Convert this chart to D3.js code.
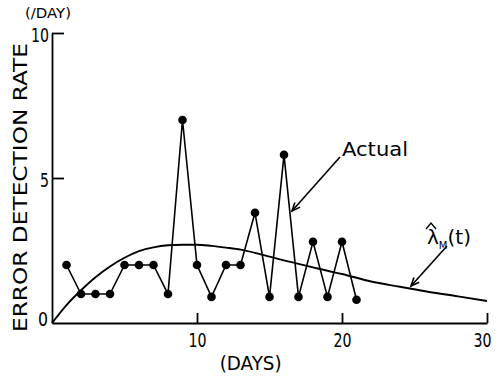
<!DOCTYPE html>
<html>
<head>
<meta charset="utf-8">
<script src="https://cdn.jsdelivr.net/npm/d3@7"></script>
<style>
  html, body { margin: 0; padding: 0; background: #fff; }
  svg { display: block; }
  text { font-family: "DejaVu Sans", "Liberation Sans", sans-serif; fill: #000; }
</style>
</head>
<body>
<svg id="chart" width="498" height="377"></svg>
<script>
// ---- Data ----
const actualDays   = [1, 2, 3, 4, 5, 6, 7, 8, 9, 10, 11, 12, 13, 14, 15, 16, 17, 18, 19, 20, 21];
const actualValues = [2, 1, 1, 1, 2, 2, 2, 1, 7, 2, 0.9, 2, 2, 3.8, 0.9, 5.8, 0.9, 2.8, 0.9, 2.8, 0.8];

const curveDays   = [0, 1, 2, 3, 4, 5, 6, 7, 8, 9, 10, 11, 12, 13, 14, 15, 16, 17, 18, 19, 20, 22, 24, 26, 28, 30];
const curveValues = [0, 0.62, 1.13, 1.58, 1.95, 2.25, 2.48, 2.61, 2.68, 2.70, 2.70, 2.66, 2.60, 2.53, 2.42, 2.29, 2.16, 2.04, 1.92, 1.80, 1.69, 1.43, 1.25, 1.07, 0.92, 0.76];

const xTickValues = [0, 10, 20, 30];
const xTickLabels = ["", "10", "20", "30"];
const yTickValues = [0, 5, 10];
const yTickLabels = ["0", "5", "10"];

// ---- Layout ----
const svg = d3.select("#chart");
const x = d3.scaleLinear().domain([0, 30]).range([52, 487]);
const y = d3.scaleLinear().domain([0, 10]).range([323, 33]);

const g = svg.append("g");

// Axes (ticks pointing inward)
const xAxis = d3.axisBottom(x).tickValues(xTickValues.slice(1))
  .tickSize(-10).tickSizeOuter(0).tickFormat((d) => xTickLabels[xTickValues.indexOf(d)]).tickPadding(10);
const yAxis = d3.axisLeft(y).tickValues(yTickValues.slice(1))
  .tickSize(-12).tickSizeOuter(0).tickFormat((d) => yTickLabels[yTickValues.indexOf(d)]).tickPadding(3);

const gx = g.append("g").attr("transform", `translate(0,${y(0)})`).call(xAxis);
const gy = g.append("g").attr("transform", `translate(${x(0)},0)`).call(yAxis);

[gx, gy].forEach(a => {
  a.select(".domain").attr("stroke", "#000").attr("stroke-width", 1.8);
  a.selectAll(".tick line").attr("stroke", "#000").attr("stroke-width", 1.8);
  a.selectAll(".tick text").attr("font-size", 20).attr("fill", "#000")
    .style("font-family", "'DejaVu Sans', sans-serif")
    .attr("textLength", d => 9 * String(d).length)
    .attr("lengthAdjust", "spacingAndGlyphs");
});
gx.selectAll(".tick text").filter(d => d === 30).attr("dx", -5);
gy.selectAll(".tick text").attr("dy", "0.42em");

// "0" label at origin
g.append("text").attr("x", x(0) - 4).attr("y", y(0) + 3)
  .attr("text-anchor", "end").attr("font-size", 20)
  .attr("textLength", 10).attr("lengthAdjust", "spacingAndGlyphs")
  .text(yTickLabels[0]);

// Axis titles
g.append("text")
  .attr("transform", `translate(27,${(43 + 332) / 2}) rotate(-90)`)
  .attr("text-anchor", "middle").attr("font-size", 20)
  .attr("textLength", 289).attr("lengthAdjust", "spacingAndGlyphs")
  .text("ERROR DETECTION RATE");

g.append("text").attr("x", 48).attr("y", 18).attr("text-anchor", "middle")
  .attr("font-size", 14).attr("textLength", 46).attr("lengthAdjust", "spacingAndGlyphs")
  .text("(/DAY)");

g.append("text").attr("x", x(13.7)).attr("y", 370).attr("text-anchor", "middle")
  .attr("font-size", 20).attr("textLength", 62).attr("lengthAdjust", "spacingAndGlyphs")
  .text("(DAYS)");

// λ curve
const curveData = curveDays.map((d, i) => [d, curveValues[i]]);
g.append("path").datum(curveData)
  .attr("fill", "none").attr("stroke", "#000").attr("stroke-width", 1.9)
  .attr("d", d3.line().x(d => x(d[0])).y(d => y(d[1])).curve(d3.curveMonotoneX));

// Actual series
const actualData = actualDays.map((d, i) => [d, actualValues[i]]);
g.append("path").datum(actualData)
  .attr("fill", "none").attr("stroke", "#000").attr("stroke-width", 1.6)
  .attr("d", d3.line().x(d => x(d[0])).y(d => y(d[1])));
g.selectAll("circle.pt").data(actualData).enter().append("circle")
  .attr("class", "pt").attr("cx", d => x(d[0])).attr("cy", d => y(d[1])).attr("r", 4.3)
  .attr("fill", "#000");

// Annotations
function arrow(x1, y1, x2, y2) {
  g.append("line").attr("x1", x1).attr("y1", y1).attr("x2", x2).attr("y2", y2)
    .attr("stroke", "#000").attr("stroke-width", 1.6);
  const ang = Math.atan2(y2 - y1, x2 - x1);
  const len = 9, spread = 0.4;
  const p1 = [x2 - len * Math.cos(ang - spread), y2 - len * Math.sin(ang - spread)];
  const p2 = [x2 - len * Math.cos(ang + spread), y2 - len * Math.sin(ang + spread)];
  g.append("path").attr("d", `M${p1}L${x2},${y2}L${p2}`)
    .attr("fill", "none").attr("stroke", "#000").attr("stroke-width", 1.6);
}

g.append("text").attr("x", 342).attr("y", 156).attr("font-size", 20)
  .attr("textLength", 66).attr("lengthAdjust", "spacingAndGlyphs").text("Actual");
arrow(340, 157, 292, 211);

// λ̂_M(t) label
const lam = g.append("text").attr("x", 427).attr("y", 244).attr("font-size", 20).attr("fill", "#000");
lam.append("tspan").attr("fill", "#000").text("λ");
lam.append("tspan").attr("fill", "#000").attr("font-size", 10).attr("dy", 5).text("M");
lam.append("tspan").attr("fill", "#000").attr("dy", -5).text("(t)");
g.append("path").attr("d", "M426,229 L431,223 L436,229")
  .attr("fill", "none").attr("stroke", "#000").attr("stroke-width", 1.4);
arrow(447, 246, 411, 286);
</script>
</body>
</html>
